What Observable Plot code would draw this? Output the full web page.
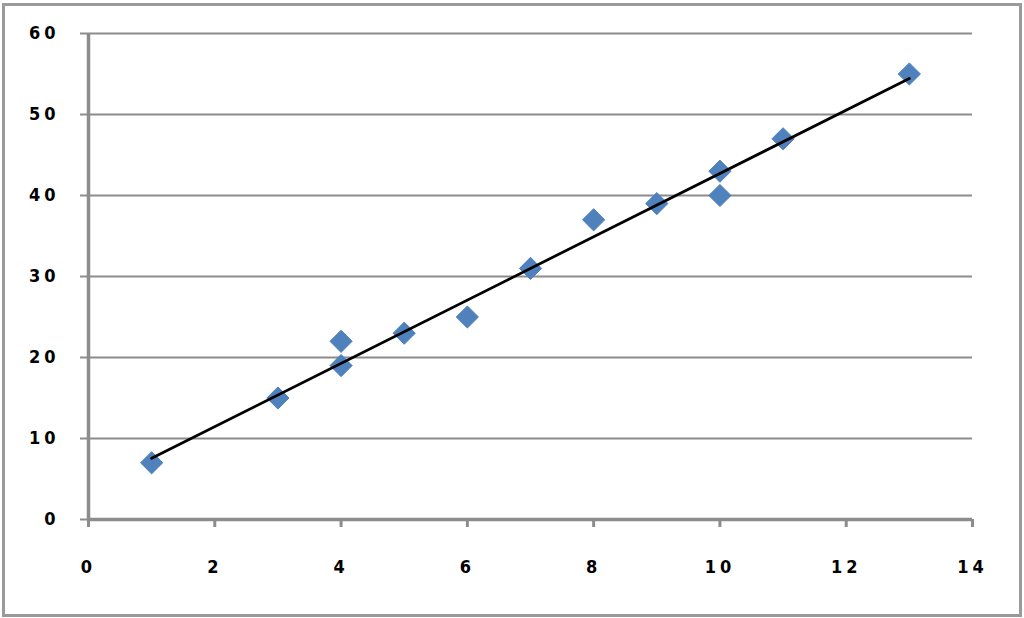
<!DOCTYPE html>
<html>
<head>
<meta charset="utf-8">
<script src="https://cdn.jsdelivr.net/npm/d3@7"></script>
<script src="https://cdn.jsdelivr.net/npm/@observablehq/plot@0.6"></script>
<style>
  html, body { margin: 0; padding: 0; background: #fff; }
  #wrap { position: relative; width: 1024px; height: 618px; }
  #border { position: absolute; left: 2px; top: 3px; width: 1014px; height: 608px; border: 3px solid #9a9a9a; box-sizing: content-box; pointer-events: none; }
  svg text { font-family: "DejaVu Sans Condensed", "Liberation Sans Narrow", "Liberation Sans", sans-serif; font-stretch: condensed; font-weight: bold; }
</style>
</head>
<body>
<div id="wrap"><div id="border"></div></div>
<script>
const xValues = [1, 3, 4, 4, 5, 6, 7, 8, 9, 10, 10, 11, 13];
const yValues = [7, 15, 22, 19, 23, 25, 31, 37, 39, 43, 40, 47, 55];
const xTicks = [0, 2, 4, 6, 8, 10, 12, 14];
const yTicks = [0, 10, 20, 30, 40, 50, 60];

const data = xValues.map((x, i) => ({x, y: yValues[i]}));
const gridColor = "#8c8c8c";

const chart = Plot.plot({
  width: 1024,
  height: 618,
  marginLeft: 88,
  marginRight: 52,
  marginTop: 33,
  marginBottom: 99,
  style: {fontSize: "18px", color: "#000", background: "transparent", letterSpacing: "4px"},
  x: {domain: [0, 14], ticks: xTicks, label: null},
  y: {domain: [0, 60], ticks: yTicks, label: null},
  marks: [
    Plot.gridY(yTicks.filter(d => d > 0), {stroke: gridColor, strokeOpacity: 1, strokeWidth: 2}),
    Plot.axisY(yTicks, {tickSize: 8, tickPadding: 21, stroke: gridColor, strokeWidth: 2, fill: "#000", label: null}),
    Plot.axisX(xTicks, {tickSize: 8, tickPadding: 33, stroke: gridColor, strokeWidth: 3, fill: "#000", label: null}),
    Plot.ruleX([0], {stroke: gridColor, strokeWidth: 3.5}),
    Plot.ruleY([0], {stroke: gridColor, strokeWidth: 3.5}),
    Plot.dot(data, {x: "x", y: "y", symbol: "diamond2", r: 10, fill: "#4f81bd", stroke: "#4f81bd", strokeWidth: 1}),
    Plot.linearRegressionY(data, {x: "x", y: "y", ci: 0, stroke: "#000", strokeWidth: 2.75})
  ]
});
document.getElementById("wrap").prepend(chart);
</script>
</body>
</html>
